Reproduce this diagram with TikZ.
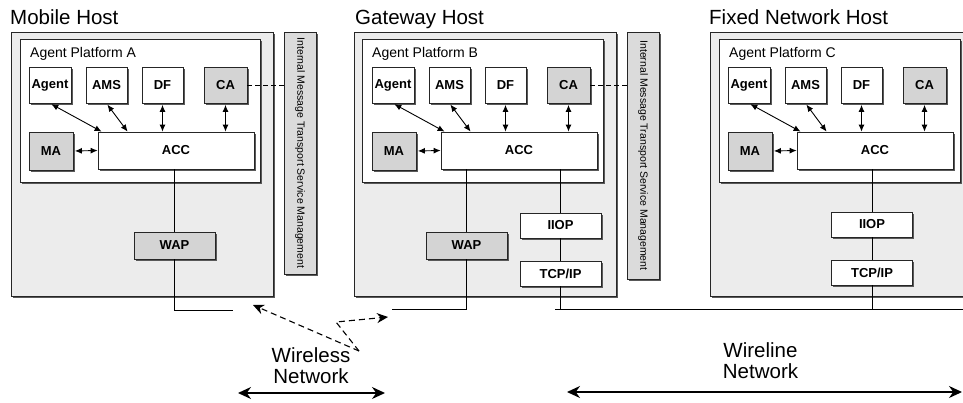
\documentclass[tikz,border=0pt]{standalone}
\usepackage{fontspec}
\setmainfont{Liberation Sans}
\usetikzlibrary{arrows.meta,shadows}

\definecolor{hostgray}{gray}{0.925}
\definecolor{boxgray}{gray}{0.83}
\definecolor{bargray}{gray}{0.86}

\tikzset{
  boxshadow/.style={drop shadow={shadow xshift=1.6pt,shadow yshift=-1.6pt,fill=black!65,opacity=1}},
  host/.style={draw=black!85,fill=hostgray,line width=0.9pt,inner sep=0,boxshadow},
  platform/.style={draw=black!85,fill=white,line width=0.9pt,inner sep=0,boxshadow},
  comp/.style={draw=black!85,fill=white,line width=0.8pt,inner sep=0,minimum height=36pt,
    font=\bfseries\fontsize{13}{15}\selectfont,boxshadow},
  gcomp/.style={comp,fill=boxgray},
  bar/.style={draw=black!85,fill=bargray,line width=0.8pt,inner sep=0,minimum width=32pt,boxshadow},
  bartext/.style={rotate=-90,inner sep=0,font=\fontsize{10.5}{12}\selectfont},
  hostlabel/.style={anchor=base west,inner sep=0,font=\fontsize{20.5}{22}\selectfont},
  aplabel/.style={anchor=base west,inner sep=0,font=\fontsize{14}{16}\selectfont},
  netlabel/.style={align=center,inner sep=0,font=\fontsize{20.5}{21}\selectfont},
  link/.style={{Latex[length=7pt,width=6pt]}-{Latex[length=7pt,width=6pt]},line width=0.9pt,shorten <=1.5pt},
  wire/.style={line width=0.8pt},
  imtsdash/.style={line width=0.9pt,dash pattern=on 5pt off 3pt},
  radio/.style={dash pattern=on 6pt off 4pt,line width=1.1pt,-{Stealth[length=11pt,width=10pt]}},
  span/.style={{Stealth[length=13pt,width=12pt]}-{Stealth[length=13pt,width=12pt]},line width=1.4pt}
}

\begin{document}
\begin{tikzpicture}[x=1pt,y=-1pt]
\clip (0,0) rectangle (963,402);

% mobile host
\node[hostlabel] (mobile) at (10,24) {Mobile Host};
\node[host,minimum width=262pt,minimum height=264pt] (hostA) at (142,164) {};
\node[platform,minimum width=240pt,minimum height=143pt] (apA) at (140,110.5) {};
\node[aplabel] (labA) at (30,57) {Agent Platform A};
\node[comp,minimum width=42pt] (agentA) at (50,85) {Agent};
\node[comp,minimum width=41pt] (amsA) at (106.5,85) {AMS};
\node[comp,minimum width=41pt] (dfA) at (162.5,85) {DF};
\node[gcomp,minimum width=43pt] (caA) at (225.5,85) {CA};
\node[gcomp,minimum width=44pt,minimum height=38pt] (maA) at (51,151) {MA};
\node[comp,minimum width=156pt,minimum height=37pt] (accA) at (176,150.5) {ACC};
\node[gcomp,minimum width=81pt,minimum height=27pt] (wapA) at (174.5,245.5) {WAP};
\node[bar,minimum height=242pt] (imtsA) at (300,153) {};
\node[bartext] (imtsAtext) at (imtsA) {Internal Message Transport Service Management};

\draw[link] (agentA.south) -- ([xshift=4pt]accA.north west);
\draw[link] (amsA.south) -- ([xshift=30pt]accA.north west);
\draw[link] (dfA.south) -- (dfA.south |- accA.north);
\draw[link] (caA.south) -- (caA.south |- accA.north);
\draw[link] (maA.east) -- (accA.west);
\draw[imtsdash] (caA.east) -- (caA.east -| imtsA.west);
\draw[wire] (accA.south -| wapA.north) -- (wapA.north);
\coordinate (endA) at (233,310);
\draw[wire] (wapA.south) |- (endA);

% gateway host
\node[hostlabel] (gateway) at (355,24) {Gateway Host};
\node[host,minimum width=262pt,minimum height=264pt] (hostB) at (485,164) {};
\node[platform,minimum width=241pt,minimum height=143pt] (apB) at (482.5,110.5) {};
\node[aplabel] (labB) at (372,57) {Agent Platform B};
\node[comp,minimum width=42pt] (agentB) at (393,85) {Agent};
\node[comp,minimum width=41pt] (amsB) at (449.5,85) {AMS};
\node[comp,minimum width=41pt] (dfB) at (505.5,85) {DF};
\node[gcomp,minimum width=43pt] (caB) at (568.5,85) {CA};
\node[gcomp,minimum width=44pt,minimum height=38pt] (maB) at (394,151) {MA};
\node[comp,minimum width=156pt,minimum height=37pt] (accB) at (519,150.5) {ACC};
\node[gcomp,minimum width=81pt,minimum height=27pt] (wapB) at (466.5,245.5) {WAP};
\node[comp,minimum width=81pt,minimum height=25pt] (iiopB) at (560.5,225.5) {IIOP};
\node[comp,minimum width=81pt,minimum height=25pt] (tcpB) at (560.5,273.5) {TCP/IP};
\node[bar,minimum height=247pt] (imtsB) at (643,155.5) {};
\node[bartext] (imtsBtext) at (imtsB) {Internal Message Transport Service Management};

\draw[link] (agentB.south) -- ([xshift=4pt]accB.north west);
\draw[link] (amsB.south) -- ([xshift=30pt]accB.north west);
\draw[link] (dfB.south) -- (dfB.south |- accB.north);
\draw[link] (caB.south) -- (caB.south |- accB.north);
\draw[link] (maB.east) -- (accB.west);
\draw[imtsdash] (caB.east) -- (caB.east -| imtsB.west);
\draw[wire] (accB.south -| wapB.north) -- (wapB.north);
\draw[wire] (accB.south -| iiopB.north) -- (iiopB.north);
\draw[wire] (iiopB) -- (tcpB);
\coordinate (endB) at (392,309);
\draw[wire] (wapB.south) |- (endB);

% fixed network host
\node[hostlabel] (fixed) at (709,24) {Fixed Network Host};
\node[host,minimum width=262pt,minimum height=264pt] (hostC) at (841,164) {};
\node[platform,minimum width=241pt,minimum height=143pt] (apC) at (839.5,110.5) {};
\node[aplabel] (labC) at (729,57) {Agent Platform C};
\node[comp,minimum width=42pt] (agentC) at (749,85) {Agent};
\node[comp,minimum width=41pt] (amsC) at (805.5,85) {AMS};
\node[comp,minimum width=41pt] (dfC) at (861.5,85) {DF};
\node[gcomp,minimum width=43pt] (caC) at (924.5,85) {CA};
\node[gcomp,minimum width=44pt,minimum height=38pt] (maC) at (750,151) {MA};
\node[comp,minimum width=156pt,minimum height=37pt] (accC) at (875,150.5) {ACC};
\node[comp,minimum width=81pt,minimum height=25pt] (iiopC) at (872,224.5) {IIOP};
\node[comp,minimum width=81pt,minimum height=25pt] (tcpC) at (872,272.5) {TCP/IP};

\draw[link] (agentC.south) -- ([xshift=4pt]accC.north west);
\draw[link] (amsC.south) -- ([xshift=30pt]accC.north west);
\draw[link] (dfC.south) -- (dfC.south |- accC.north);
\draw[link] (caC.south) -- (caC.south |- accC.north);
\draw[link] (maC.east) -- (accC.west);
\draw[wire] (accC.south -| iiopC.north) -- (iiopC.north);
\draw[wire] (iiopC) -- (tcpC);

% wired bus
\coordinate (busL) at (555,309);
\coordinate (busR) at (963,309);
\draw[wire] (busL) -- (busR);
\draw[wire] (tcpB.south) -- (tcpB.south |- busL);
\draw[wire] (tcpC.south) -- (tcpC.south |- busL);

% radio links
\coordinate (hub) at (359,351);
\coordinate (bend) at (336,322);
\coordinate (tipA) at (253,305);
\coordinate (tipB) at (388,317);
\draw[radio] (hub) -- (tipA);
\draw[radio] (hub) -- (bend) -- (tipB);

\node[netlabel] (wireless) at (311,366) {Wireless\\Network};
\node[netlabel] (wireline) at (760.5,360.5) {Wireline\\Network};
\coordinate (wlsL) at (238,393);
\coordinate (wlsR) at (385,393);
\coordinate (wlnL) at (567,392);
\coordinate (wlnR) at (962,392);
\draw[span] (wlsL) -- (wlsR);
\draw[span] (wlnL) -- (wlnR);
\end{tikzpicture}
\end{document}
